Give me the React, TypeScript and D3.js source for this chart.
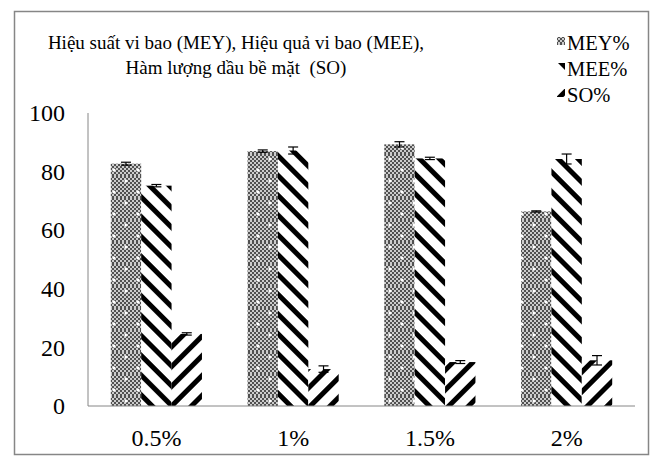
import React from "react";
import * as d3 from "d3";

const categories = ["0.5%", "1%", "1.5%", "2%"];
const seriesNames = ["MEY%", "MEE%", "SO%"];
const meyValues = [82.7, 87.0, 89.3, 66.4];
const meyErrors = [0.5, 0.4, 0.9, 0.2];
const meeValues = [75.2, 87.2, 84.5, 84.3];
const meeErrors = [0.4, 1.2, 0.4, 1.7];
const soValues = [24.6, 12.6, 15.0, 15.6];
const soErrors = [0.4, 1.1, 0.5, 1.6];
const yTicks = [0, 20, 40, 60, 80, 100];
const titleLines = ["Hiệu suất vi bao (MEY), Hiệu quả vi bao (MEE),", "Hàm lượng dầu bề mặt  (SO)"];

const W = 652;
const H = 457;
const plot = { left: 88, right: 635, top: 113, bottom: 406 };

export default function App() {
  const x = d3
    .scaleBand<string>()
    .domain(categories)
    .range([plot.left, plot.right])
    .paddingInner(1.5 / 4.5)
    .paddingOuter(0.75 / 4.5);
  const sub = d3.scaleBand<string>().domain(seriesNames).range([0, x.bandwidth()]).padding(0);
  const y = d3.scaleLinear().domain([0, 100]).range([plot.bottom, plot.top]);

  const series = [
    { name: "MEY%", values: meyValues, errors: meyErrors, fill: "url(#patMEY)" },
    { name: "MEE%", values: meeValues, errors: meeErrors, fill: "url(#patMEE)" },
    { name: "SO%", values: soValues, errors: soErrors, fill: "url(#patSO)" },
  ];

  const axisColor = "#868686";
  const serif = "Liberation Serif, Times New Roman, serif";

  return (
    <div style={{ position: "fixed", left: 0, top: 0 }}>
      <svg width={W} height={H} style={{ display: "block", background: "#fff" }}>
        <defs>
          <pattern id="checker" width="4" height="4" patternUnits="userSpaceOnUse">
            <rect width="4" height="4" fill="#cccccc" />
            <rect x="0" y="0" width="2" height="2" fill="#505050" />
            <rect x="2" y="2" width="2" height="2" fill="#505050" />
          </pattern>
          <pattern id="patMEY" width="24" height="22" patternUnits="userSpaceOnUse">
            <rect width="24" height="22" fill="url(#checker)" />
            <circle cx="6" cy="5" r="1.6" fill="#fff" />
            <circle cx="18" cy="16" r="1.6" fill="#fff" />
          </pattern>
          <pattern id="patMEE" width="14" height="14" patternUnits="userSpaceOnUse" patternTransform="rotate(-45)">
            <rect width="14" height="14" fill="#fff" />
            <rect x="0" y="0" width="5" height="14" fill="#000" />
          </pattern>
          <pattern id="patSO" width="14" height="14" patternUnits="userSpaceOnUse" patternTransform="rotate(45)">
            <rect width="14" height="14" fill="#fff" />
            <rect x="0" y="0" width="5" height="14" fill="#000" />
          </pattern>
        </defs>

        <rect x={14.5} y={11.5} width={634} height={443} fill="#fff" stroke={axisColor} strokeWidth={1.5} />

        {titleLines.map((t, i) => (
          <text
            key={i}
            x={236}
            y={49 + i * 25}
            textAnchor="middle"
            fontFamily={serif}
            fontSize={19}
            fill="#000"
            style={{ whiteSpace: "pre" }}
          >
            {t}
          </text>
        ))}

        {series.map((s, i) => (
          <g key={s.name}>
            <rect x={557} y={37 + i * 26} width={8} height={8} fill={s.fill} />
            <text x={567} y={49.5 + i * 26} fontFamily={serif} fontSize={20.5} fill="#000">
              {s.name}
            </text>
          </g>
        ))}

        {yTicks.map((t) => (
          <text
            key={t}
            x={65}
            y={y(t)}
            dy="0.34em"
            textAnchor="end"
            fontFamily={serif}
            fontSize={24}
            fill="#000"
          >
            {t}
          </text>
        ))}

        {categories.map((c, ci) => (
          <g key={c}>
            {series.map((s) => {
              const bx = (x(c) ?? 0) + (sub(s.name) ?? 0);
              const v = s.values[ci];
              return (
                <rect
                  key={s.name}
                  x={bx}
                  y={y(v)}
                  width={sub.bandwidth()}
                  height={y(0) - y(v)}
                  fill={s.fill}
                />
              );
            })}
            {series.map((s) => {
              const cx = (x(c) ?? 0) + (sub(s.name) ?? 0) + sub.bandwidth() / 2;
              const v = s.values[ci];
              const e = s.errors[ci];
              const y1 = y(v + e);
              const y2 = y(v - e);
              return (
                <g key={s.name + "err"} stroke="#000" strokeWidth={1.2}>
                  <line x1={cx} x2={cx} y1={y1} y2={y2} />
                  <line x1={cx - 5} x2={cx + 5} y1={y1} y2={y1} />
                  <line x1={cx - 5} x2={cx + 5} y1={y2} y2={y2} />
                </g>
              );
            })}
            <text
              x={(x(c) ?? 0) + x.bandwidth() / 2}
              y={438}
              dy="0.34em"
              textAnchor="middle"
              fontFamily={serif}
              fontSize={24}
              fill="#000"
            >
              {c}
            </text>
          </g>
        ))}

        <line x1={plot.left} x2={plot.left} y1={plot.top} y2={plot.bottom} stroke={axisColor} strokeWidth={1} />
        <line x1={plot.left} x2={plot.right} y1={plot.bottom} y2={plot.bottom} stroke={axisColor} strokeWidth={1} />
      </svg>
    </div>
  );
}
